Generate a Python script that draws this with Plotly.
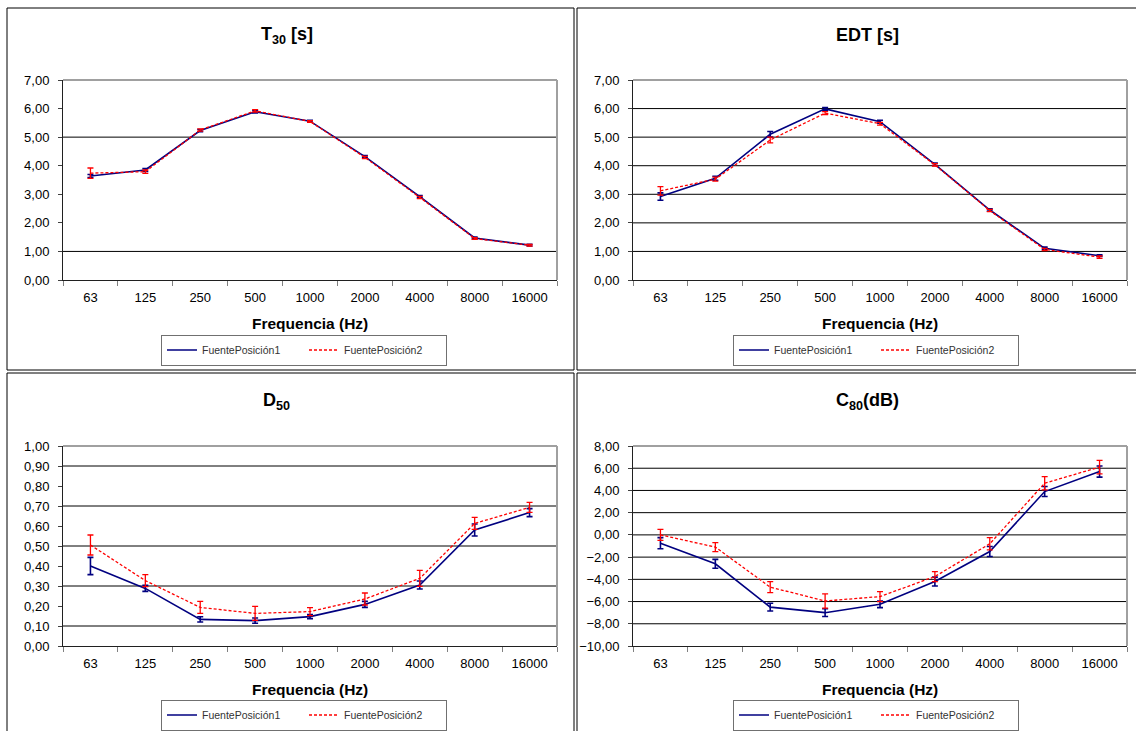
import plotly.graph_objects as go

freqs = ["63", "125", "250", "500", "1000", "2000", "4000", "8000", "16000"]

t30_p1 = [3.64, 3.85, 5.23, 5.89, 5.56, 4.32, 2.92, 1.47, 1.22]
t30_p1_err = [0.05, 0.05, 0.04, 0.04, 0.03, 0.04, 0.04, 0.03, 0.03]
t30_p2 = [3.74, 3.79, 5.25, 5.92, 5.55, 4.29, 2.89, 1.45, 1.22]
t30_p2_err = [0.18, 0.06, 0.04, 0.04, 0.03, 0.04, 0.04, 0.03, 0.03]

edt_p1 = [2.92, 3.56, 5.10, 5.99, 5.54, 4.05, 2.45, 1.11, 0.85]
edt_p1_err = [0.13, 0.07, 0.10, 0.05, 0.05, 0.04, 0.04, 0.04, 0.03]
edt_p2 = [3.12, 3.53, 4.90, 5.84, 5.47, 4.03, 2.43, 1.07, 0.80]
edt_p2_err = [0.15, 0.07, 0.10, 0.05, 0.05, 0.04, 0.04, 0.04, 0.04]

d50_p1 = [0.40, 0.288, 0.133, 0.127, 0.147, 0.208, 0.305, 0.58, 0.667]
d50_p1_err = [0.043, 0.015, 0.013, 0.013, 0.010, 0.015, 0.02, 0.03, 0.02]
d50_p2 = [0.505, 0.327, 0.193, 0.163, 0.172, 0.235, 0.338, 0.613, 0.693]
d50_p2_err = [0.05, 0.03, 0.03, 0.035, 0.02, 0.03, 0.04, 0.03, 0.025]

c80_p1 = [-0.75, -2.6, -6.5, -7.0, -6.25, -4.2, -1.5, 3.9, 5.7]
c80_p1_err = [0.5, 0.4, 0.35, 0.35, 0.3, 0.4, 0.45, 0.45, 0.5]
c80_p2 = [0.0, -1.1, -4.7, -5.95, -5.55, -3.75, -0.8, 4.65, 6.1]
c80_p2_err = [0.5, 0.4, 0.5, 0.65, 0.45, 0.45, 0.55, 0.6, 0.6]

series_names = ["FuentePosición1", "FuentePosición2"]
titles = ["T<sub>30</sub> [s]", "EDT [s]", "D<sub>50</sub>", "C<sub>80</sub>(dB)"]
x_title = "Frequencia (Hz)"

W, H = 1136, 731
FONT = "Liberation Sans, Arial, sans-serif"
BLUE = "#000080"
RED = "#FF0000"


def px(x):
    return x / W


def py(y):
    return 1 - y / H


panels = [
    dict(p1=t30_p1, e1=t30_p1_err, p2=t30_p2, e2=t30_p2_err, yr=[0, 7], dt=1,
         grid=[1, 5], dom_x=(63, 557), dom_y=(80, 280), title_xy=(287, 35),
         xlab_y=323, leg=(304, 350)),
    dict(p1=edt_p1, e1=edt_p1_err, p2=edt_p2, e2=edt_p2_err, yr=[0, 7], dt=1,
         grid=[1, 2, 3, 4, 5, 6], dom_x=(633, 1127), dom_y=(80, 280), title_xy=(867, 35),
         xlab_y=323, leg=(876, 350)),
    dict(p1=d50_p1, e1=d50_p1_err, p2=d50_p2, e2=d50_p2_err, yr=[0, 1], dt=0.1,
         grid=[0.1, 0.3, 0.5, 0.7, 0.9], dom_x=(63, 557), dom_y=(446, 646), title_xy=(276, 401),
         xlab_y=689, leg=(304, 715)),
    dict(p1=c80_p1, e1=c80_p1_err, p2=c80_p2, e2=c80_p2_err, yr=[-10, 8], dt=2,
         grid=[-8, -6, -4, -2, 0, 2, 4, 6], dom_x=(633, 1127), dom_y=(446, 646), title_xy=(867, 401),
         xlab_y=689, leg=(876, 715)),
]

fig = go.Figure()
layout = dict(width=W, height=H, margin=dict(l=0, r=0, t=0, b=0, autoexpand=False),
              paper_bgcolor="white", plot_bgcolor="white", separators=",.",
              font=dict(family=FONT, color="#000000"))
shapes = []
annotations = []

for i, p in enumerate(panels):
    n = "" if i == 0 else str(i + 1)
    xa, ya = "x" + n, "y" + n
    leg = "legend" + n
    fig.add_trace(go.Scatter(
        x=freqs, y=p["p1"], name=series_names[0], mode="lines",
        line=dict(color=BLUE, width=1.6),
        error_y=dict(type="data", array=p["e1"], color=BLUE, thickness=1.6, width=3),
        xaxis=xa, yaxis=ya, legend=leg))
    fig.add_trace(go.Scatter(
        x=freqs, y=p["p2"], name=series_names[1], mode="lines",
        line=dict(color=RED, width=1.3, dash="3px,2px"),
        error_y=dict(type="data", array=p["e2"], color=RED, thickness=1.3, width=3),
        xaxis=xa, yaxis=ya, legend=leg))

    layout["xaxis" + n] = dict(
        domain=[px(p["dom_x"][0]), px(p["dom_x"][1])], anchor=ya,
        type="category", range=[-0.5, 8.5], tickson="boundaries",
        ticks="outside", ticklen=5, tickcolor="#808080", showgrid=False,
        showline=True, linecolor="#202020", linewidth=1, ticklabelstandoff=5,
        tickfont=dict(size=13, family=FONT, color="#000000"), zeroline=False)
    layout["yaxis" + n] = dict(
        domain=[py(p["dom_y"][1]), py(p["dom_y"][0])], anchor=xa,
        range=p["yr"], dtick=p["dt"], tick0=p["yr"][0], tickformat=".2f",
        ticks="outside", ticklen=4, tickcolor="#404040", showgrid=False,
        showline=True, linecolor="#202020", linewidth=1, zeroline=False,
        ticklabelstandoff=6,
        tickfont=dict(size=13, family=FONT, color="#000000"))

    # plot-area frame (top/right grey)
    shapes.append(dict(type="line", xref=xa + " domain", yref=ya + " domain",
                       x0=0, x1=1, y0=1, y1=1, line=dict(color="#A0A0A0", width=2)))
    shapes.append(dict(type="line", xref=xa + " domain", yref=ya + " domain",
                       x0=1, x1=1, y0=0, y1=1, line=dict(color="#A0A0A0", width=2)))
    for g in p["grid"]:
        shapes.append(dict(type="line", xref=xa + " domain", yref=ya, layer="below",
                           x0=0, x1=1, y0=g, y1=g, line=dict(color="#000000", width=1)))

    annotations.append(dict(text="<b>%s</b>" % titles[i], x=px(p["title_xy"][0]),
                            y=py(p["title_xy"][1]), xref="paper", yref="paper",
                            showarrow=False, xanchor="center", yanchor="middle",
                            font=dict(size=18, family=FONT, color="#000000")))
    annotations.append(dict(text="<b>%s</b>" % x_title, x=0.5, xref=xa + " domain",
                            y=py(p["xlab_y"]), yref="paper", showarrow=False,
                            xanchor="center", yanchor="middle",
                            font=dict(size=15.5, family=FONT, color="#000000")))

    layout[leg] = dict(orientation="h", x=px(p["leg"][0]), y=py(p["leg"][1]),
                       xanchor="center", yanchor="middle", bgcolor="white",
                       bordercolor="#707070", borderwidth=1,
                       entrywidth=97, entrywidthmode="pixels",
                       font=dict(size=10.5, family=FONT, color="#333333"),
                       itemclick=False, itemdoubleclick=False)

# panel frames
for (x0, x1, y0, y1) in [(7, 574, 8, 370), (577, 1140, 8, 370),
                         (7, 574, 373, 735), (577, 1140, 373, 735)]:
    shapes.append(dict(type="rect", xref="paper", yref="paper",
                       x0=px(x0), x1=px(x1), y0=py(y1), y1=py(y0),
                       line=dict(color="#000000", width=1), fillcolor="rgba(0,0,0,0)"))

layout["shapes"] = shapes
layout["annotations"] = annotations
layout["showlegend"] = True
fig.update_layout(**layout)

fig.write_html("out.html", config={"displayModeBar": False},
               post_script="document.body.style.margin='0';document.body.style.overflow='hidden';")
